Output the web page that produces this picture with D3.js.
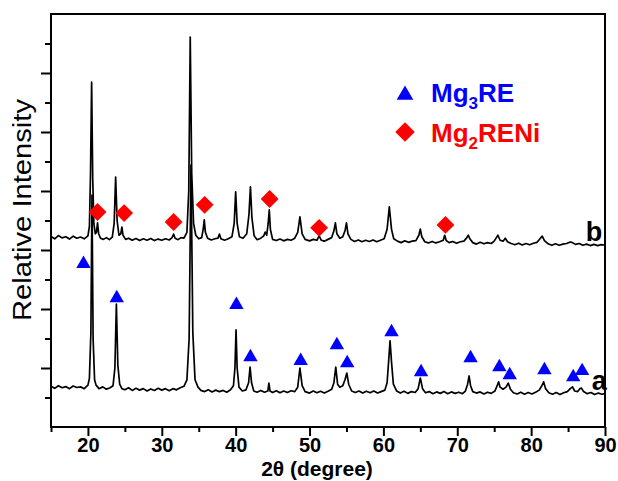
<!DOCTYPE html>
<html>
<head>
<meta charset="utf-8">
<script src="https://cdn.jsdelivr.net/npm/d3@7"></script>
<style>
  body { margin: 0; background: #fff; }
  text { font-family: "Liberation Sans", Arial, sans-serif; }
</style>
</head>
<body>
<svg width="618" height="481"></svg>
<script>
// pattern a (lower curve), [2theta, intensity]
const patternA = [
  [15.0,1.38],[15.5,1.31],[16.0,1.40],[16.5,1.33],[17.0,1.37],[17.5,1.30],[18.0,1.39],[18.5,1.34],
  [19.0,1.36],[19.5,1.30],[20.0,1.42],[20.2,1.65],[20.4,3.2],[20.55,7.86],[20.7,3.0],[20.9,1.6],
  [21.1,1.42],[21.5,1.30],[22.0,1.36],[22.5,1.28],[23.0,1.33],[23.4,1.40],[23.65,2.0],[23.85,4.17],
  [24.05,2.1],[24.3,1.45],[24.6,1.30],[25.0,1.26],[25.5,1.33],[26.0,1.24],[26.5,1.31],[27.0,1.25],
  [27.5,1.30],[28.0,1.22],[28.5,1.29],[29.0,1.24],[29.5,1.31],[30.0,1.25],[30.5,1.30],[31.0,1.23],
  [31.5,1.30],[32.0,1.26],[32.5,1.33],[33.0,1.38],[33.4,1.6],[33.7,3.0],[33.95,8.88],[34.2,3.2],
  [34.5,1.6],[34.9,1.35],[35.3,1.24],[35.8,1.20],[36.3,1.26],[36.8,1.19],[37.3,1.25],[37.8,1.20],
  [38.3,1.24],[38.8,1.18],[39.3,1.26],[39.7,1.40],[39.9,2.0],[40.05,3.29],[40.2,2.0],[40.45,1.35],
  [40.9,1.22],[41.4,1.26],[41.75,1.5],[41.95,2.03],[42.15,1.5],[42.45,1.22],[42.9,1.18],[43.4,1.24],
  [43.9,1.18],[44.35,1.22],[44.5,1.49],[44.65,1.22],[45.0,1.17],[45.5,1.23],[46.0,1.16],[46.5,1.22],
  [47.0,1.17],[47.5,1.23],[48.0,1.20],[48.4,1.35],[48.7,2.0],[49.0,1.4],[49.4,1.20],[50.0,1.15],
  [50.5,1.22],[51.0,1.16],[51.5,1.21],[52.0,1.15],[52.5,1.21],[53.0,1.28],[53.3,1.5],[53.55,2.03],
  [53.8,1.45],[54.1,1.35],[54.5,1.4],[54.8,1.6],[55.05,1.83],[55.3,1.45],[55.7,1.22],[56.2,1.17],
  [56.7,1.22],[57.2,1.15],[57.7,1.21],[58.2,1.16],[58.7,1.22],[59.2,1.15],[59.7,1.20],[60.2,1.25],
  [60.5,1.5],[60.7,2.2],[60.9,2.92],[61.1,2.2],[61.35,1.45],[61.8,1.22],[62.3,1.15],[62.8,1.21],
  [63.3,1.14],[63.8,1.20],[64.3,1.17],[64.7,1.3],[65.0,1.66],[65.3,1.3],[65.7,1.16],[66.2,1.20],
  [66.7,1.13],[67.2,1.19],[67.7,1.14],[68.2,1.20],[68.7,1.13],[69.2,1.19],[69.7,1.14],[70.2,1.18],
  [70.7,1.13],[71.1,1.22],[71.4,1.45],[71.6,1.73],[71.8,1.40],[72.1,1.20],[72.6,1.15],[73.1,1.19],
  [73.6,1.12],[74.1,1.18],[74.6,1.14],[75.1,1.22],[75.4,1.40],[75.6,1.53],[75.8,1.35],[76.2,1.28],
  [76.6,1.35],[76.9,1.49],[77.2,1.28],[77.6,1.16],[78.1,1.12],[78.6,1.18],[79.1,1.11],[79.6,1.17],
  [80.1,1.12],[80.6,1.18],[81.1,1.25],[81.45,1.40],[81.7,1.53],[81.95,1.30],[82.4,1.16],[82.9,1.11],
  [83.4,1.17],[83.9,1.10],[84.4,1.16],[84.9,1.20],[85.3,1.30],[85.6,1.36],[85.9,1.22],[86.3,1.20],
  [86.6,1.30],[86.8,1.32],[87.1,1.20],[87.6,1.13],[88.1,1.17],[88.6,1.10],[89.1,1.15],[89.6,1.11],
  [90.0,1.13]
];

// pattern b (upper curve)
const patternB = [
  [15.0,6.46],[15.5,6.38],[16.0,6.49],[16.5,6.41],[17.0,6.45],[17.5,6.37],[18.0,6.47],[18.5,6.40],
  [19.0,6.44],[19.5,6.38],[20.0,6.48],[20.2,6.8],[20.35,8.6],[20.5,11.69],[20.65,8.4],[20.8,6.9],
  [21.0,6.55],[21.15,6.6],[21.3,6.92],[21.45,6.55],[21.7,6.40],[22.1,6.36],[22.5,6.42],[22.9,6.35],
  [23.3,6.44],[23.55,6.9],[23.75,8.47],[23.95,7.0],[24.2,6.5],[24.45,6.55],[24.6,6.78],[24.75,6.5],
  [25.1,6.36],[25.5,6.40],[26.0,6.33],[26.5,6.39],[27.0,6.32],[27.5,6.38],[28.0,6.33],[28.5,6.39],
  [29.0,6.32],[29.5,6.37],[30.0,6.33],[30.5,6.38],[31.0,6.34],[31.4,6.42],[31.6,6.54],[31.8,6.40],
  [32.2,6.35],[32.6,6.42],[33.0,6.40],[33.4,6.6],[33.65,8.0],[33.85,13.22],[34.05,8.6],[34.3,6.9],
  [34.6,6.5],[35.0,6.38],[35.4,6.42],[35.6,6.7],[35.75,7.02],[35.9,6.6],[36.2,6.40],[36.7,6.34],
  [37.2,6.38],[37.6,6.40],[37.8,6.54],[38.0,6.38],[38.5,6.33],[39.0,6.38],[39.5,6.45],[39.8,6.9],
  [40.0,7.97],[40.2,6.9],[40.5,6.45],[41.0,6.40],[41.5,6.55],[41.8,7.2],[42.0,8.14],[42.2,7.1],
  [42.5,6.48],[42.9,6.35],[43.4,6.40],[43.8,6.48],[44.0,6.61],[44.2,6.50],[44.4,6.9],[44.55,7.36],
  [44.7,6.7],[45.0,6.36],[45.5,6.32],[46.0,6.37],[46.5,6.31],[47.0,6.36],[47.5,6.33],[48.0,6.40],
  [48.4,6.6],[48.7,7.12],[49.0,6.55],[49.4,6.36],[50.0,6.31],[50.5,6.36],[51.0,6.33],[51.3,6.48],
  [51.6,6.33],[52.0,6.30],[52.5,6.36],[53.0,6.42],[53.3,6.65],[53.5,6.92],[53.7,6.55],[54.1,6.40],
  [54.5,6.45],[54.8,6.65],[55.0,6.92],[55.2,6.55],[55.6,6.36],[56.1,6.29],[56.6,6.34],[57.1,6.28],
  [57.6,6.33],[58.1,6.29],[58.6,6.34],[59.1,6.28],[59.6,6.33],[60.1,6.38],[60.5,6.7],[60.8,7.46],
  [61.1,6.7],[61.4,6.38],[61.9,6.30],[62.4,6.25],[62.9,6.31],[63.4,6.26],[63.9,6.30],[64.4,6.32],
  [64.8,6.5],[65.0,6.71],[65.2,6.45],[65.6,6.28],[66.1,6.24],[66.6,6.29],[67.1,6.24],[67.6,6.28],
  [68.1,6.33],[68.3,6.50],[68.5,6.32],[68.9,6.25],[69.4,6.29],[69.9,6.23],[70.4,6.28],[70.9,6.30],
  [71.3,6.42],[71.5,6.50],[71.7,6.38],[72.1,6.25],[72.6,6.20],[73.1,6.26],[73.6,6.21],[74.1,6.25],
  [74.6,6.22],[75.0,6.30],[75.3,6.42],[75.5,6.50],[75.8,6.33],[76.2,6.30],[76.5,6.40],[76.8,6.28],
  [77.3,6.22],[77.8,6.18],[78.3,6.23],[78.8,6.17],[79.3,6.22],[79.8,6.18],[80.3,6.23],[80.8,6.26],
  [81.2,6.38],[81.5,6.47],[81.8,6.32],[82.3,6.21],[82.8,6.16],[83.3,6.21],[83.8,6.16],[84.3,6.20],
  [84.8,6.22],[85.3,6.27],[85.6,6.25],[86.0,6.19],[86.5,6.22],[87.0,6.16],[87.5,6.20],[88.0,6.15],
  [88.5,6.19],[89.0,6.15],[89.5,6.18],[90.0,6.16]
];

// phase markers
const mg3reMarks = [
  [19.4,5.53],[23.9,4.37],[40.1,4.14],[42.0,2.37],[48.8,2.24],[53.7,2.78],[55.1,2.17],[61.1,3.22],
  [65.1,1.86],[71.8,2.34],[75.7,2.03],[77.1,1.76],[81.8,1.93],[85.7,1.69],[86.9,1.90]
];
const mg2reniMarks = [
  [21.3,7.29],[24.9,7.25],[31.6,6.95],[35.8,7.53],[44.6,7.73],[51.3,6.75],[68.4,6.85]
];

const xTicks = [15, 20, 25, 30, 35, 40, 45, 50, 55, 60, 65, 70, 75, 80, 85, 90];
const yTicks = [1, 2, 3, 4, 5, 6, 7, 8, 9, 10, 11, 12, 13];

const svg = d3.select("svg");
const margin = { left: 51, right: 13, top: 14, bottom: 54 };
const width = +svg.attr("width");
const height = +svg.attr("height");

const x = d3.scaleLinear().domain([15, 90]).range([margin.left, width - margin.right]);
const y = d3.scaleLinear().domain([0, 14]).range([height - margin.bottom, margin.top]);

const line = d3.line().x((d) => x(d[0])).y((d) => y(d[1]));

[patternA, patternB].forEach((p) => {
  svg.append("path")
    .datum(p)
    .attr("d", line)
    .attr("fill", "none")
    .attr("stroke", "#000")
    .attr("stroke-width", 1.7)
    .attr("stroke-linejoin", "round");
});

// axes
const xAxis = svg.append("g")
  .attr("transform", `translate(0,${y(0)})`)
  .call(d3.axisBottom(x).tickValues(xTicks).tickSize(9)
    .tickFormat((d) => (d % 10 === 0 ? d : "")));
xAxis.selectAll(".tick line")
  .attr("y2", (d) => (d % 10 === 0 ? 9 : 5))
  .attr("stroke-width", 2);
xAxis.selectAll(".tick text")
  .attr("y", 11)
  .style("font-size", "20px")
  .style("font-weight", "bold")
  .style("font-family", "'Liberation Sans', Arial, sans-serif");
xAxis.select(".domain").remove();

const yAxis = svg.append("g")
  .attr("transform", `translate(${x(15)},0)`)
  .call(d3.axisLeft(y).tickValues(yTicks).tickSize(10).tickFormat(""));
yAxis.selectAll(".tick line")
  .attr("x2", (d) => (d % 2 === 0 ? -10 : -6))
  .attr("stroke-width", 2);
yAxis.select(".domain").remove();

svg.append("rect")
  .attr("x", x(15))
  .attr("y", y(14))
  .attr("width", x(90) - x(15))
  .attr("height", y(0) - y(14))
  .attr("fill", "none")
  .attr("stroke", "#000")
  .attr("stroke-width", 2);

// markers
const tri = d3.symbol().type(d3.symbolTriangle).size(90);
const dia = d3.symbol().type(d3.symbolSquare).size(160);

svg.selectAll(".tri")
  .data(mg3reMarks)
  .enter()
  .append("path")
  .attr("d", tri)
  .attr("transform", (d) => `translate(${x(d[0])},${y(d[1])})`)
  .attr("fill", "#0000ff");

svg.selectAll(".dia")
  .data(mg2reniMarks)
  .enter()
  .append("path")
  .attr("d", dia)
  .attr("transform", (d) => `translate(${x(d[0])},${y(d[1])}) rotate(45)`)
  .attr("fill", "#ff0000");

// pattern labels
svg.append("text").attr("x", x(88.2)).attr("y", y(1.25)).text("a")
  .style("font-size", "27px").style("font-weight", "bold");
svg.append("text").attr("x", x(87.4)).attr("y", y(6.3)).text("b")
  .style("font-size", "27px").style("font-weight", "bold");

// legend
svg.append("path").attr("d", d3.symbol().type(d3.symbolTriangle).size(120))
  .attr("transform", "translate(405,95)").attr("fill", "#0000ff");
svg.append("path").attr("d", d3.symbol().type(d3.symbolSquare).size(190))
  .attr("transform", "translate(405,132) rotate(45)").attr("fill", "#ff0000");

const leg1 = svg.append("text").attr("x", 431).attr("y", 102)
  .attr("fill", "#0000ff").style("font-size", "26px").style("font-weight", "bold");
leg1.append("tspan").text("Mg");
leg1.append("tspan").text("3").attr("dy", 7).style("font-size", "17px");
leg1.append("tspan").text("RE").attr("dy", -7);

const leg2 = svg.append("text").attr("x", 431).attr("y", 142)
  .attr("fill", "#ff0000").style("font-size", "26px").style("font-weight", "bold");
leg2.append("tspan").text("Mg");
leg2.append("tspan").text("2").attr("dy", 7).style("font-size", "17px");
leg2.append("tspan").text("RENi").attr("dy", -7);

// axis titles
svg.append("text")
  .attr("x", 317).attr("y", 476)
  .attr("text-anchor", "middle")
  .style("font-size", "21px").style("font-weight", "bold")
  .text("2θ (degree)");

svg.append("text")
  .attr("transform", "translate(31,210) rotate(-90)")
  .attr("text-anchor", "middle")
  .attr("textLength", 222)
  .attr("lengthAdjust", "spacingAndGlyphs")
  .style("font-size", "26px")
  .text("Relative Intensity");
</script>
</body>
</html>
